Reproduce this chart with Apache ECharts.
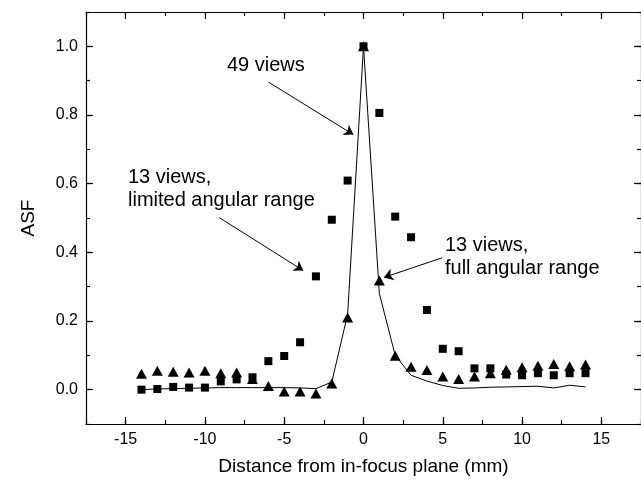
<!DOCTYPE html>
<html><head><meta charset="utf-8">
<script src="https://cdn.jsdelivr.net/npm/echarts@6/dist/echarts.min.js"></script>
<style>html,body{margin:0;padding:0;background:#fff}#c{width:641px;height:481px}</style>
</head><body><div id="c"></div>
<script>
// Distance from in-focus plane (mm)
const positions = [-14,-13,-12,-11,-10,-9,-8,-7,-6,-5,-4,-3,-2,-1,0,1,2,3,4,5,6,7,8,9,10,11,12,13,14];
// 49 views (solid line)
const asf49 = [0.000,0.002,0.003,0.004,0.005,0.006,0.006,0.006,0.006,0.006,0.005,0.003,0.022,0.22,1.0,0.28,0.100,0.042,0.025,0.012,0.004,0.005,0.007,0.008,0.009,0.010,0.005,0.013,0.008];
// 13 views, limited angular range (squares)
const asf13Limited = [0.000,0.002,0.008,0.006,0.006,0.024,0.030,0.036,0.083,0.098,0.138,0.330,0.495,0.609,1.0,0.806,0.504,0.444,0.232,0.119,0.112,0.062,0.062,0.044,0.042,0.048,0.042,0.048,0.048];
// 13 views, full angular range (triangles)
const asf13Full = [0.046,0.055,0.052,0.050,0.055,0.048,0.050,0.031,0.011,-0.005,-0.005,-0.011,0.018,0.210,1.0,0.318,0.099,0.067,0.057,0.038,0.031,0.038,0.048,0.058,0.065,0.070,0.075,0.068,0.073];
// tick labels
const xMajorTicks = [-15,-10,-5,0,5,10,15];
const yMajorTicks = [0,0.2,0.4,0.6,0.8,1.0];

const FONT = '"Liberation Sans", Arial, sans-serif';
const pair = (xs, ys) => xs.map((x, i) => [x, ys[i]]);

const X_MIN = -17.5, X_MAX = 17.5, Y_MIN = -0.1, Y_MAX = 1.1;

function xAx(position, major, withLabels) {
  return {
    type: 'value', position: position, min: X_MIN, max: X_MAX, interval: 2.5,
    axisLine: { show: major, onZero: false, lineStyle: { color: '#000', width: 1.2 } },
    axisTick: major ? { show: true, inside: true, length: 7, customValues: xMajorTicks, lineStyle: { color: '#000', width: 1.2 } }
                    : { show: true, inside: true, length: 4, lineStyle: { color: '#000', width: 1.2 } },
    axisLabel: withLabels ? { show: true, customValues: xMajorTicks, color: '#000', fontSize: 16, fontFamily: FONT, margin: 8 } : { show: false },
    splitLine: { show: false },
    name: withLabels ? 'Distance from in-focus plane (mm)' : '',
    nameLocation: 'middle', nameGap: 33,
    nameTextStyle: { color: '#000', fontSize: 19, fontFamily: FONT }
  };
}
function yAx(position, major, withLabels) {
  return {
    type: 'value', position: position, min: Y_MIN, max: Y_MAX, interval: 0.1,
    axisLine: { show: major, onZero: false, lineStyle: { color: '#000', width: 1.2 } },
    axisTick: major ? { show: true, inside: true, length: 7, customValues: yMajorTicks, lineStyle: { color: '#000', width: 1.2 } }
                    : { show: true, inside: true, length: 4, lineStyle: { color: '#000', width: 1.2 } },
    axisLabel: withLabels ? { show: true, customValues: yMajorTicks, color: '#000', fontSize: 16, fontFamily: FONT, margin: 8, formatter: v => v.toFixed(1) } : { show: false },
    splitLine: { show: false },
    name: withLabels ? 'ASF' : '',
    nameLocation: 'middle', nameGap: 48, nameRotate: 90,
    nameTextStyle: { color: '#000', fontSize: 19, fontFamily: FONT }
  };
}

const chart = echarts.init(document.getElementById('c'), null, { renderer: 'canvas' });
chart.setOption({
  animation: false,
  backgroundColor: '#fff',
  grid: { left: 86, right: -2, top: 12, bottom: 57, containLabel: false },
  xAxis: [xAx('bottom', true, true), xAx('bottom', false, false), xAx('top', true, false), xAx('top', false, false)],
  yAxis: [yAx('left', true, true), yAx('left', false, false), yAx('right', true, false), yAx('right', false, false)],
  series: [
    {
      name: '49 views', type: 'line', data: pair(positions, asf49),
      symbol: 'none', lineStyle: { color: '#000', width: 1 }, z: 2,
      markLine: {
        silent: true, symbol: ['none', 'arrow'], symbolSize: 9,
        label: { show: false },
        lineStyle: { color: '#000', width: 1, type: 'solid' },
        data: [
          [{ coord: [-6.0, 0.896] }, { coord: [-0.64, 0.743] }],
          [{ coord: [-9.09, 0.501] }, { coord: [-3.8, 0.347] }],
          [{ coord: [4.96, 0.384] }, { coord: [1.29, 0.327] }]
        ]
      }
    },
    {
      name: '13 views, limited angular range', type: 'scatter', data: pair(positions, asf13Limited),
      symbol: 'rect', symbolSize: 8, itemStyle: { color: '#000', opacity: 1 }, z: 3
    },
    {
      name: '13 views, full angular range', type: 'scatter', data: pair(positions, asf13Full),
      symbol: 'triangle', symbolSize: [11, 10], itemStyle: { color: '#000', opacity: 1 }, z: 4
    }
  ],
  graphic: [
    { type: 'text', left: 227, top: 54, style: { text: '49 views', font: '20px ' + FONT, fill: '#000', lineHeight: 23 } },
    { type: 'text', left: 128, top: 166, style: { text: '13 views,\nlimited angular range', font: '20px ' + FONT, fill: '#000', lineHeight: 23 } },
    { type: 'text', left: 445, top: 234, style: { text: '13 views,\nfull angular range', font: '20px ' + FONT, fill: '#000', lineHeight: 23 } }
  ]
});
</script>
</body></html>
